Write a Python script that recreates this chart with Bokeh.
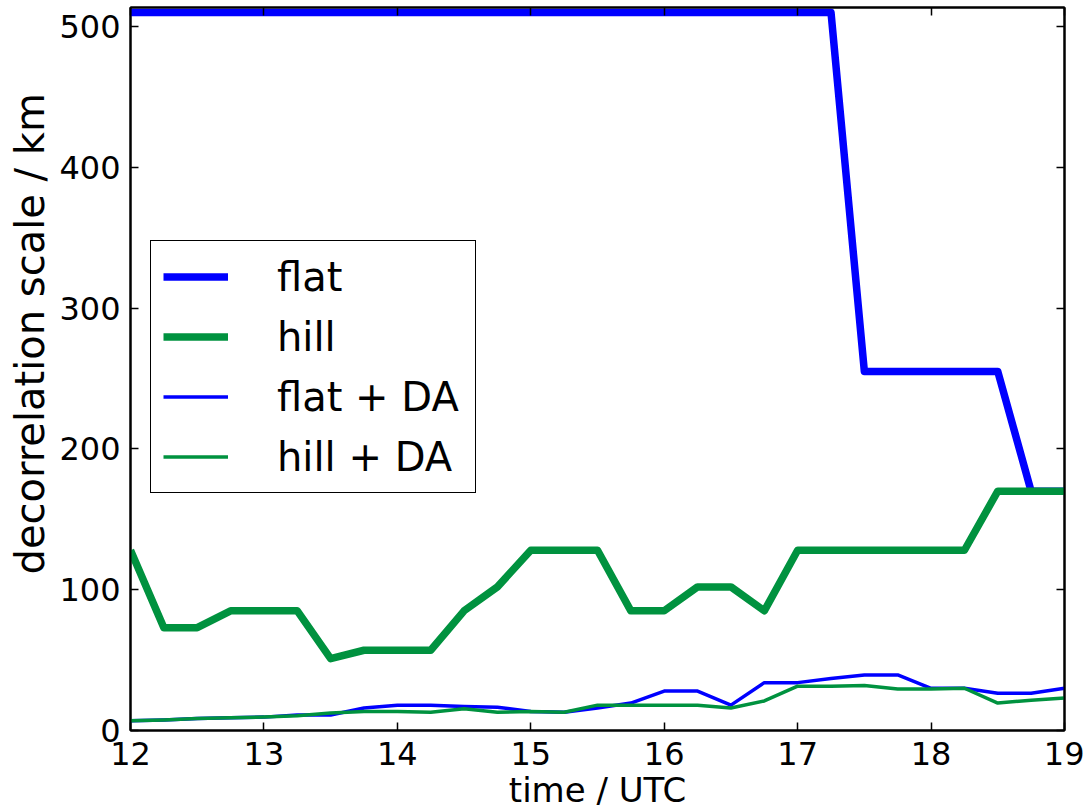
from bokeh.plotting import figure
from bokeh.models import (Legend, LegendItem, LinearAxis, Range1d, FixedTicker,
                          Title, CustomJSTickFormatter)
from bokeh.embed import file_html
from bokeh.resources import INLINE

# forecast time (UTC), every 15 minutes
time_utc = [12.0, 12.25, 12.5, 12.75, 13.0, 13.25, 13.5, 13.75, 14.0, 14.25,
            14.5, 14.75, 15.0, 15.25, 15.5, 15.75, 16.0, 16.25, 16.5, 16.75,
            17.0, 17.25, 17.5, 17.75, 18.0, 18.25, 18.5, 18.75, 19.0]

# decorrelation scale (km)
flat = [510, 510, 510, 510, 510, 510, 510, 510, 510, 510,
        510, 510, 510, 510, 510, 510, 510, 510, 510, 510,
        510, 510, 255, 255, 255, 255, 255, 170, 170]
hill = [128, 73, 73, 85, 85, 85, 51, 57, 57, 57,
        85, 102, 128, 128, 128, 85, 85, 102, 102, 85,
        128, 128, 128, 128, 128, 128, 170, 170, 170]
flat_da = [7, 7.5, 8.5, 9, 9.5, 11, 11, 16, 18, 18,
           17, 16.5, 13.5, 13, 16, 19.5, 28, 28, 18, 34,
           34, 37, 39.5, 39.5, 30, 30, 26.5, 26.5, 30]
hill_da = [7, 7.5, 8.5, 9, 9.5, 10.5, 12.5, 13.5, 13.5, 13,
           15.5, 13, 13.5, 13, 18, 18, 18, 18, 16, 21,
           31.5, 31.5, 32, 29.5, 29.5, 30, 19.5, 21.5, 23]

series_names = ["flat", "hill", "flat + DA", "hill + DA"]
x_ticks = [12, 13, 14, 15, 16, 17, 18, 19]
y_ticks = [0, 100, 200, 300, 400, 500]
x_title = "time / UTC"
y_title_text = "decorrelation scale / km"

BLUE = "#0000ff"
GREEN = "#00923f"
FONT = "DejaVu Sans"

p = figure(width=1084, height=812,
           x_range=Range1d(12, 19), y_range=Range1d(0, 513.5),
           output_backend="svg", toolbar_location=None,
           min_border_left=128, min_border_right=20,
           min_border_top=7, min_border_bottom=81,
           x_axis_label=x_title)

p.xgrid.visible = False
p.ygrid.visible = False
p.outline_line_color = "black"
p.outline_line_width = 2
p.background_fill_color = "white"
p.border_fill_color = "white"

r_flat = p.line(time_utc, flat, line_color=BLUE, line_width=7.5, line_join="round")
r_hill = p.line(time_utc, hill, line_color=GREEN, line_width=7.5, line_join="round")
r_flat_da = p.line(time_utc, flat_da, line_color=BLUE, line_width=3.5, line_join="round")
r_hill_da = p.line(time_utc, hill_da, line_color=GREEN, line_width=3.5, line_join="round")


def style_axis(ax, ticks, show_labels=True):
    ax.ticker = FixedTicker(ticks=ticks)
    ax.major_tick_in = 8
    ax.major_tick_out = 0
    ax.minor_tick_in = 0
    ax.minor_tick_out = 0
    ax.major_tick_line_color = "black"
    ax.major_tick_line_width = 1.5
    ax.axis_line_color = "black"
    ax.axis_line_width = 2
    ax.major_label_text_font = FONT
    ax.major_label_text_font_size = "32px"
    ax.major_label_text_color = "black"
    ax.major_label_standoff = 10
    ax.axis_label_text_font = FONT
    ax.axis_label_text_font_style = "normal"
    ax.axis_label_text_color = "black"
    if not show_labels:
        # tick marks only on the mirrored axes
        ax.formatter = CustomJSTickFormatter(code="return ''")
        ax.major_label_standoff = 0


xa = p.xaxis[0]
ya = p.yaxis[0]
style_axis(xa, x_ticks)
style_axis(ya, y_ticks)
xa.major_label_standoff = 11
xa.axis_label_text_font_size = "34px"
xa.axis_label_standoff = 2

# vertical axis title, set a little above the middle of the frame
y_title = Title(text=y_title_text, align="left", offset=156,
                text_font=FONT, text_font_size="40px", text_font_style="normal",
                text_color="black", standoff=8)
p.add_layout(y_title, "left")

top_axis = LinearAxis()
style_axis(top_axis, x_ticks, show_labels=False)
p.add_layout(top_axis, "above")
right_axis = LinearAxis()
style_axis(right_axis, y_ticks, show_labels=False)
p.add_layout(right_axis, "right")

legend = Legend(
    items=[LegendItem(label=n, renderers=[r])
           for n, r in zip(series_names, [r_flat, r_hill, r_flat_da, r_hill_da])],
    location=(20, 237),
    label_text_font=FONT, label_text_font_size="40px", label_text_color="black",
    glyph_width=65, glyph_height=47, label_standoff=49,
    label_height=47, label_width=186, spacing=13, padding=12, margin=0,
    border_line_color="black", border_line_width=1.5, border_line_alpha=1.0,
    background_fill_color="white", background_fill_alpha=1.0,
)
p.add_layout(legend, "center")

open("out.html", "w").write(file_html(p, INLINE))
